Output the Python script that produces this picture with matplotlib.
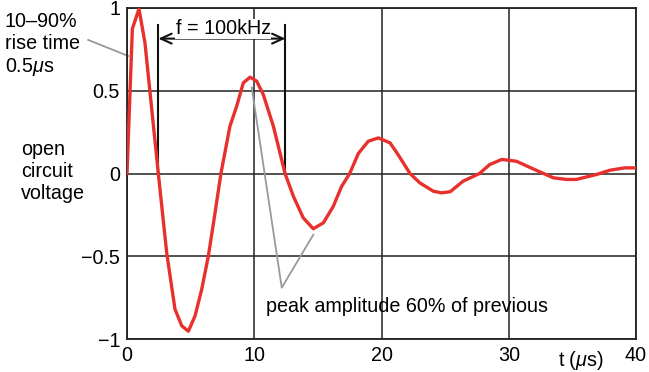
import matplotlib
matplotlib.use('Agg')
import matplotlib.pyplot as plt

# readings: time in microseconds, voltage (normalised)
t_us = [0, 0.42, 0.94, 1.41, 2.46, 3.12, 3.77, 4.3, 4.82, 5.34, 5.87, 6.39, 6.92, 7.38,
        8.09, 8.62, 9.14, 9.67, 10.19, 10.71, 11.5, 12.42, 13.07, 13.85, 14.64, 15.43,
        16.2, 16.87, 17.5, 18.18, 18.96, 19.75, 20.67, 21.25, 22.24, 23.0, 24.07, 24.73,
        25.4, 26.4, 27.7, 28.5, 29.45, 30.6, 32.2, 33.5, 34.55, 35.3, 36.9, 37.96,
        39.1, 40]
voltage = [0, 0.874, 0.995, 0.79, 0, -0.48, -0.82, -0.92, -0.953, -0.862, -0.70, -0.50, -0.237, 0,
           0.286, 0.407, 0.548, 0.582, 0.558, 0.477, 0.286, 0, -0.137, -0.268, -0.334, -0.298,
           -0.2, -0.077, 0, 0.121, 0.195, 0.215, 0.185, 0.12, 0, -0.056, -0.107, -0.117,
           -0.11, -0.047, 0, 0.054, 0.085, 0.074, 0.018, -0.026, -0.036, -0.036, -0.006, 0.02,
           0.034, 0.034]

x_ticks = [0, 10, 20, 30, 40]
y_ticks = [-1, -0.5, 0, 0.5, 1]
y_labels = ['\u22121', '\u22120.5', '0', '0.5', '1']

# period markers (one cycle = 10 us -> 100 kHz)
period_start = 2.46
period_end = 12.45

plt.rcParams['font.family'] = ['Liberation Sans', 'DejaVu Sans']
plt.rcParams['font.size'] = 14.2
plt.rcParams['mathtext.fontset'] = 'custom'
plt.rcParams['mathtext.it'] = 'Liberation Sans:italic'
plt.rcParams['mathtext.rm'] = 'Liberation Sans'

fig = plt.figure(figsize=(6.49, 3.72), dpi=100)
ax = fig.add_axes([0.1957, 0.0887, 0.7843, 0.8898])

ax.set_xlim(0, 40)
ax.set_ylim(-1, 1)
ax.set_xticks(x_ticks)
ax.set_yticks(y_ticks)
ax.set_yticklabels(y_labels)
ax.tick_params(length=0, pad=5)
ax.grid(True, color='#222222', linewidth=1.1)
for s in ax.spines.values():
    s.set_linewidth(1.3)
    s.set_color('#222222')

ax.plot(t_us, voltage, color='#e8302c', linewidth=2.4, zorder=3, solid_joinstyle='round')

# rise time pointer
ax.plot([-3.05, 0.1], [0.807, 0.71], color='#999999', linewidth=1.3, clip_on=False)
ax.text(-9.6, 0.975, '10\u201390%\nrise time\n0.5$\\mu$s', ha='left', va='top',
        linespacing=1.2)

# period marker
ax.plot([period_start, period_start], [0, 0.9], color='#111111', linewidth=1.5)
ax.plot([period_end, period_end], [0, 0.9], color='#111111', linewidth=1.5)
ax.annotate('', xy=(period_start, 0.815), xytext=(period_end, 0.815),
            arrowprops=dict(arrowstyle='<->,head_length=0.55,head_width=0.25',
                            color='#111111', linewidth=1.5, shrinkA=0, shrinkB=0))
ax.text(7.55, 0.875, 'f = 100kHz', ha='center', va='center',
        bbox=dict(facecolor='white', edgecolor='none', pad=0.3))

# peak amplitude pointer
ax.plot([9.8, 12.16, 14.64], [0.52, -0.69, -0.37], color='#999999', linewidth=1.3, zorder=2)
ax.text(10.9, -0.805, 'peak amplitude 60% of previous', ha='left', va='center')

fig.text(0.033, 0.54, 'open\ncircuit\nvoltage', ha='left', va='center', linespacing=1.2)
fig.text(0.86, 0.032, 't ($\\mu$s)', ha='left', va='center')

fig.savefig('out.png', dpi=100)
